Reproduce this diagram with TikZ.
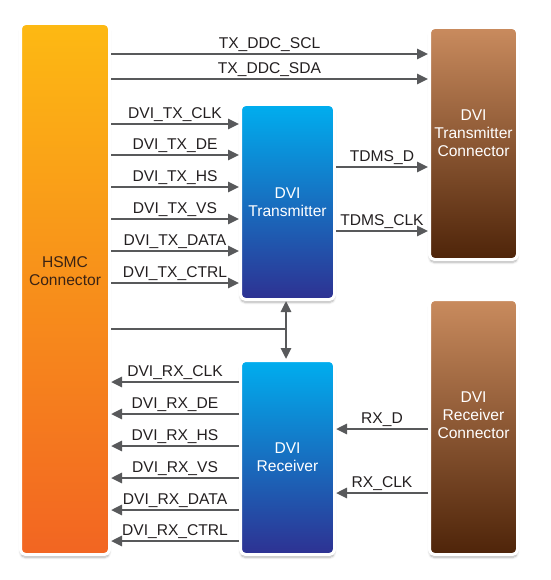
\documentclass[tikz,border=0pt]{standalone}
\usepackage{fontspec}
\setmainfont{Liberation Sans}
\usetikzlibrary{arrows.meta,shadows.blur}
\definecolor{linegray}{HTML}{58595B}
\definecolor{txtdark}{HTML}{231F20}
\definecolor{hsmctop}{HTML}{FDB913}
\definecolor{hsmcbot}{HTML}{F26522}
\definecolor{bluetop}{HTML}{00AEEF}
\definecolor{bluebot}{HTML}{2E3192}
\definecolor{browntop}{HTML}{C98B5E}
\definecolor{brownbot}{HTML}{4E2409}
\definecolor{hsmctext}{HTML}{3B2314}
\begin{document}
\begin{tikzpicture}[x=1pt,y=-1pt,
  font=\fontsize{15.6}{18}\selectfont,
  box/.style={rectangle, rounded corners=5pt, draw=white, line width=3pt,
    blur shadow={shadow xshift=0pt, shadow yshift=-3pt, shadow blur steps=6, shadow opacity=30},
    text=white, align=center, inner sep=0pt},
  hsmcbox/.style={box, top color=hsmctop, bottom color=hsmcbot},
  bluebox/.style={box, top color=bluetop, bottom color=bluebot},
  brownbox/.style={box, top color=browntop, bottom color=brownbot},
  arr/.style={draw=linegray, line width=2.6pt, -{Triangle[length=11pt,width=10pt]}},
  barr/.style={draw=linegray, line width=2.6pt, {Triangle[length=11pt,width=10pt]}-{Triangle[length=11pt,width=10pt]}},
  plain/.style={draw=linegray, line width=2.6pt},
  lbl/.style={above=0.5pt, inner sep=1pt, text=txtdark}
]
\useasboundingbox (0,0) rectangle (550,580);

% boxes
\node[hsmcbox, minimum width=89pt, minimum height=531pt] (hsmc) at (65,289) {};
\node[text=hsmctext, align=center] (hsmct) at (65,271) {HSMC\\Connector};

\node[brownbox, minimum width=88pt, minimum height=232pt] (txc) at (473.5,143.5) {};
\node[text=white, align=center] (txct) at (473.5,133) {DVI\\Transmitter\\Connector};

\node[brownbox, minimum width=88pt, minimum height=255pt] (rxc) at (473.5,427) {};
\node[text=white, align=center] (rxct) at (473.5,415) {DVI\\Receiver\\Connector};

\node[bluebox, minimum width=94pt, minimum height=195pt] (tx) at (287.5,202) {DVI\\Transmitter};
\node[bluebox, minimum width=94pt, minimum height=194pt] (rx) at (287.5,457.5) {DVI\\Receiver};

% DDC lines
\draw[arr] (hsmc.east |- 0,54) -- node[lbl] {TX\_DDC\_SCL} (txc.west |- 0,54);
\draw[arr] (hsmc.east |- 0,79) -- node[lbl] {TX\_DDC\_SDA} (txc.west |- 0,79);

% TX inputs
\draw[arr] (hsmc.east |- 0,124) -- node[lbl] {DVI\_TX\_CLK} (tx.west |- 0,124);
\draw[arr] (hsmc.east |- 0,155) -- node[lbl] {DVI\_TX\_DE} (tx.west |- 0,155);
\draw[arr] (hsmc.east |- 0,187) -- node[lbl] {DVI\_TX\_HS} (tx.west |- 0,187);
\draw[arr] (hsmc.east |- 0,219) -- node[lbl] {DVI\_TX\_VS} (tx.west |- 0,219);
\draw[arr] (hsmc.east |- 0,251) -- node[lbl] {DVI\_TX\_DATA} (tx.west |- 0,251);
\draw[arr] (hsmc.east |- 0,283) -- node[lbl] {DVI\_TX\_CTRL} (tx.west |- 0,283);

% TMDS
\draw[arr] (tx.east |- 0,167) -- node[lbl] {TDMS\_D} (txc.west |- 0,167);
\draw[arr] (tx.east |- 0,231) -- node[lbl] {TDMS\_CLK} (txc.west |- 0,231);

% shared bus
\coordinate (j) at (286,329);
\draw[barr] (tx.south -| j) -- (rx.north -| j);
\draw[plain] (hsmc.east |- j) -- (j);

% RX outputs
\draw[arr] (rx.west |- 0,382) -- node[lbl] {DVI\_RX\_CLK} (hsmc.east |- 0,382);
\draw[arr] (rx.west |- 0,414) -- node[lbl] {DVI\_RX\_DE} (hsmc.east |- 0,414);
\draw[arr] (rx.west |- 0,446) -- node[lbl] {DVI\_RX\_HS} (hsmc.east |- 0,446);
\draw[arr] (rx.west |- 0,478) -- node[lbl] {DVI\_RX\_VS} (hsmc.east |- 0,478);
\draw[arr] (rx.west |- 0,510) -- node[lbl] {DVI\_RX\_DATA} (hsmc.east |- 0,510);
\draw[arr] (rx.west |- 0,541) -- node[lbl] {DVI\_RX\_CTRL} (hsmc.east |- 0,541);

% RX from connector
\draw[arr] (rxc.west |- 0,429) -- node[lbl] {RX\_D} (rx.east |- 0,429);
\draw[arr] (rxc.west |- 0,493) -- node[lbl] {RX\_CLK} (rx.east |- 0,493);
\end{tikzpicture}
\end{document}
